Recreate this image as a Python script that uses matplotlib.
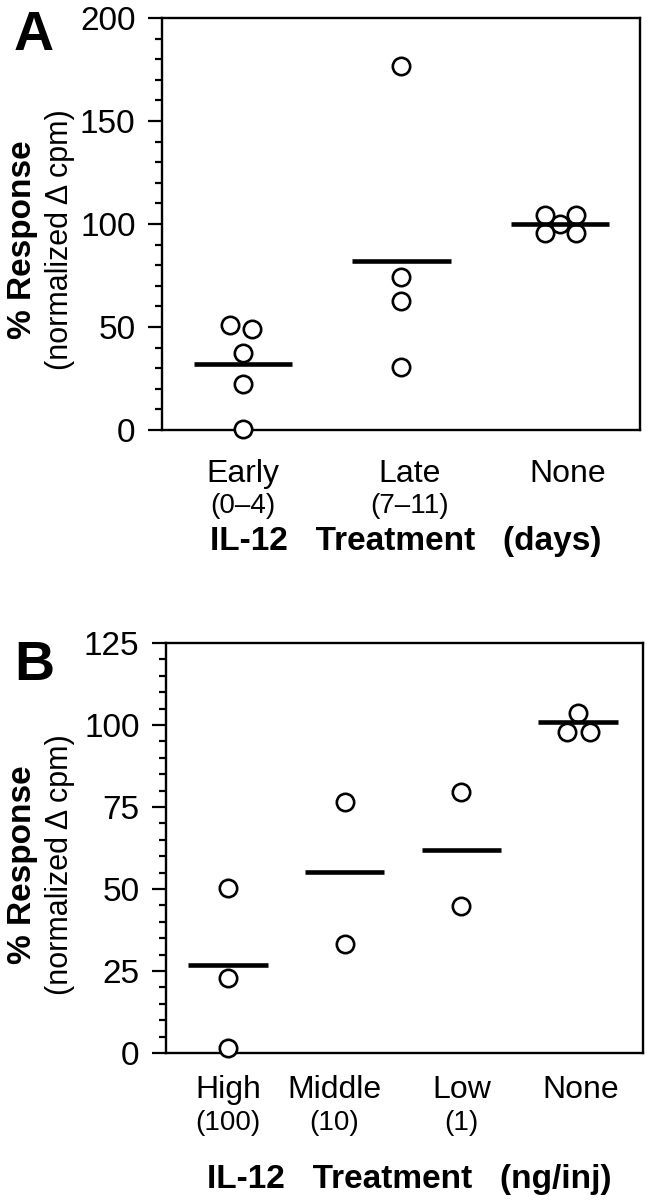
import matplotlib
matplotlib.use("Agg")
import matplotlib.pyplot as plt
from matplotlib.transforms import blended_transform_factory
from matplotlib.ticker import MultipleLocator

plt.rcParams['font.family'] = ['Liberation Sans', 'DejaVu Sans']

# ---------------- data ----------------
cats_a = ["Early", "Late", "None"]
subs_a = ["(0–4)", "(7–11)", ""]
vals_a = [[51.0, 48.9, 37.2, 22.3, 0.3],
          [176.9, 74.4, 62.6, 30.7],
          [100.2, 104.4, 104.4, 95.6, 95.6]]
means_a = [32.0, 82.2, 100.0]
yticks_a = [0, 50, 100, 150, 200]
xtitle_a = "IL-12   Treatment   (days)"

cats_b = ["High", "Middle", "Low", "None"]
subs_b = ["(100)", "(10)", "(1)", ""]
vals_b = [[50.3, 22.8, 1.5],
          [76.4, 33.2],
          [79.6, 44.8],
          [103.7, 97.9, 97.9]]
means_b = [26.8, 55.2, 61.9, 101.0]
yticks_b = [0, 25, 50, 75, 100, 125]
xtitle_b = "IL-12   Treatment   (ng/inj)"

ylabel_main = "% Response"
ylabel_sub = "(normalized Δ cpm)"

# ---------------- layout (pixels) ----------------
W, H = 650, 1200
fig = plt.figure(figsize=(W / 100, H / 100), dpi=100)

def px_axes(l, t, r, b):
    return fig.add_axes([l / W, 1 - b / H, (r - l) / W, (b - t) / H])

# horizontal jitter for overlapping points and label nudges (layout only)
jit_a = [[-0.085, 0.06, 0, 0, 0], [0, 0, 0, 0], [0, -0.095, 0.1, -0.095, 0.1]]
jit_b = [[0, 0, 0], [0, 0], [0, 0], [0, -0.095, 0.1]]
lab_off_a = [0, 0.05, 0.05]
lab_off_b = [0, -0.09, 0, 0.02]


def panel(ax, cats, subs, vals, means, yticks, minor, xlim, half, jit, lab_off,
          lab_y, sub_y, title, title_y, letter, letter_y, yl_y):
    ax.set_xlim(*xlim)
    ax.set_ylim(yticks[0], yticks[-1])
    for i, (vs, js) in enumerate(zip(vals, jit)):
        for v, j in zip(vs, js):
            ax.plot(i + j, v, 'o', ms=12.5, mfc='white', mec='black', mew=1.9,
                    zorder=3, clip_on=False)
    for i, m in enumerate(means):
        ax.hlines(m, i - half, i + half, colors='black', lw=3.3, zorder=4,
                  capstyle='butt')
    ax.set_yticks(yticks)
    ax.yaxis.set_minor_locator(MultipleLocator(minor))
    ax.set_xticks([])
    ax.tick_params(axis='y', which='major', direction='out', length=10,
                   width=1.6, pad=9, labelsize=24)
    ax.tick_params(axis='y', which='minor', direction='out', length=5,
                   width=1.6)
    for s in ax.spines.values():
        s.set_linewidth(1.7)
    tr = blended_transform_factory(ax.transData, fig.transFigure)
    for i, (c, s) in enumerate(zip(cats, subs)):
        ax.text(i + lab_off[i], 1 - lab_y / H, c, transform=tr, ha='center',
                va='baseline', fontsize=23)
        if s:
            ax.text(i + lab_off[i], 1 - sub_y / H, s, transform=tr,
                    ha='center', va='baseline', fontsize=20)
    pos = ax.get_position()
    fig.text((pos.x0 + pos.x1) / 2 + 5 / W, 1 - title_y / H, title,
             ha='center', va='baseline', fontsize=24, fontweight='bold')
    fig.text(14 / W, 1 - letter_y / H, letter, ha='left', va='top',
             fontsize=40, fontweight='bold')
    fig.text(23 / W, 1 - yl_y / H, ylabel_main, rotation=90, ha='center',
             va='center', fontsize=24, fontweight='bold')
    fig.text(60 / W, 1 - yl_y / H, ylabel_sub, rotation=90, ha='center',
             va='center', fontsize=22)


ax_a = px_axes(162, 18, 640, 430)
panel(ax_a, cats_a, subs_a, vals_a, means_a, yticks_a, 10,
      (-0.511, 2.505), 0.31, jit_a, lab_off_a,
      lab_y=482, sub_y=513, title=xtitle_a, title_y=550,
      letter="A", letter_y=10, yl_y=240)

ax_b = px_axes(166, 643, 643, 1053)
panel(ax_b, cats_b, subs_b, vals_b, means_b, yticks_b, 5,
      (-0.531, 3.556), 0.34, jit_b, lab_off_b,
      lab_y=1098, sub_y=1130, title=xtitle_b,
      title_y=1188, letter="B", letter_y=640, yl_y=865)

fig.savefig("out.png", dpi=100)
